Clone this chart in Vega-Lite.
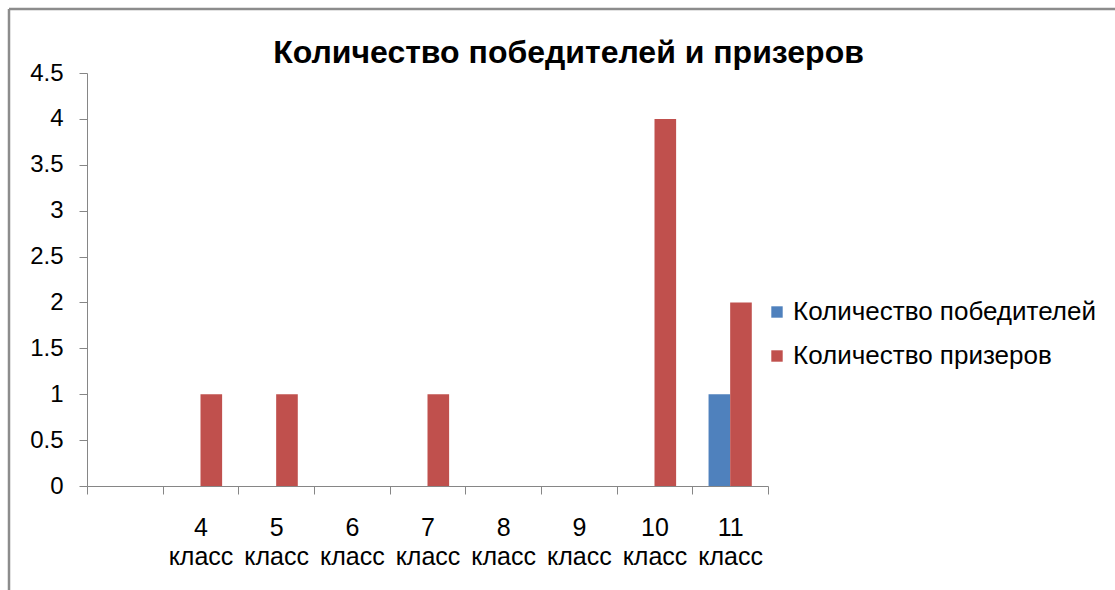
{
  "$schema": "https://vega.github.io/schema/vega-lite/v6.json",
  "autosize": "none",
  "width": 1106,
  "height": 581,
  "padding": {"left": 9, "top": 9, "right": 0, "bottom": 0},
  "background": "white",
  "title": {
    "text": "Количество победителей и призеров",
    "font": "Liberation Sans",
    "fontSize": 32,
    "fontWeight": "bold",
    "color": "black",
    "anchor": "middle",
    "dx": 6.5,
    "offset": -61
  },
  "data": {
    "values": [
      {"cls": "-", "series": "Количество победителей", "value": 0},
      {"cls": "-", "series": "Количество призеров", "value": 0},
      {"cls": "4 класс", "series": "Количество победителей", "value": 0},
      {"cls": "4 класс", "series": "Количество призеров", "value": 1},
      {"cls": "5 класс", "series": "Количество победителей", "value": 0},
      {"cls": "5 класс", "series": "Количество призеров", "value": 1},
      {"cls": "6 класс", "series": "Количество победителей", "value": 0},
      {"cls": "6 класс", "series": "Количество призеров", "value": 0},
      {"cls": "7 класс", "series": "Количество победителей", "value": 0},
      {"cls": "7 класс", "series": "Количество призеров", "value": 1},
      {"cls": "8 класс", "series": "Количество победителей", "value": 0},
      {"cls": "8 класс", "series": "Количество призеров", "value": 0},
      {"cls": "9 класс", "series": "Количество победителей", "value": 0},
      {"cls": "9 класс", "series": "Количество призеров", "value": 0},
      {"cls": "10 класс", "series": "Количество победителей", "value": 0},
      {"cls": "10 класс", "series": "Количество призеров", "value": 4},
      {"cls": "11 класс", "series": "Количество победителей", "value": 1},
      {"cls": "11 класс", "series": "Количество призеров", "value": 2}
    ]
  },
  "mark": {"type": "bar"},
  "encoding": {
    "x": {
      "field": "cls",
      "type": "nominal",
      "scale": {
        "domain": ["-", "4 класс", "5 класс", "6 класс", "7 класс", "8 класс", "9 класс", "10 класс", "11 класс"],
        "range": [78, 759],
        "paddingInner": 0,
        "paddingOuter": 0
      },
      "axis": {
        "title": null,
        "offset": -104,
        "labelAngle": 0,
        "labelExpr": "indexof(datum.label, 'класс') < 0 ? '' : split(datum.label, ' ')",
        "labelFont": "Liberation Sans",
        "labelFontSize": 25,
        "labelColor": "black",
        "labelLineHeight": 29,
        "labelPadding": 21,
        "labelBaseline": "top",
        "tickBand": "extent",
        "tickSize": 8,
        "tickColor": "#868686",
        "domainColor": "#868686",
        "labelOverlap": false
      }
    },
    "xOffset": {
      "field": "series",
      "type": "nominal",
      "scale": {"paddingInner": 0, "paddingOuter": 0.75}
    },
    "y": {
      "field": "value",
      "type": "quantitative",
      "scale": {"domain": [0, 4.5], "nice": false, "range": [477, 64]},
      "axis": {
        "title": null,
        "offset": -78,
        "values": [0, 0.5, 1, 1.5, 2, 2.5, 3, 3.5, 4, 4.5],
        "format": "~g",
        "grid": false,
        "labelFont": "Liberation Sans",
        "labelFontSize": 24,
        "labelColor": "black",
        "labelPadding": 16,
        "tickSize": 8,
        "tickColor": "#868686",
        "domainColor": "#868686"
      }
    },
    "color": {
      "field": "series",
      "type": "nominal",
      "scale": {"domain": ["Количество победителей", "Количество призеров"], "range": ["#4F81BD", "#C0504D"]},
      "legend": {
        "title": null,
        "orient": "none",
        "legendX": 755,
        "legendY": 290,
        "symbolType": "square",
        "symbolSize": 130,
        "symbolStrokeWidth": 0,
        "labelFont": "Liberation Sans",
        "labelFontSize": 26,
        "labelColor": "black",
        "labelLimit": 400,
        "labelOffset": 3,
        "rowPadding": 18
      }
    }
  },
  "config": {
    "view": {
      "stroke": "#8c8c8c",
      "strokeWidth": 2.5,
      "strokeDash": [1106, 1687, 581, 0]
    }
  }
}
